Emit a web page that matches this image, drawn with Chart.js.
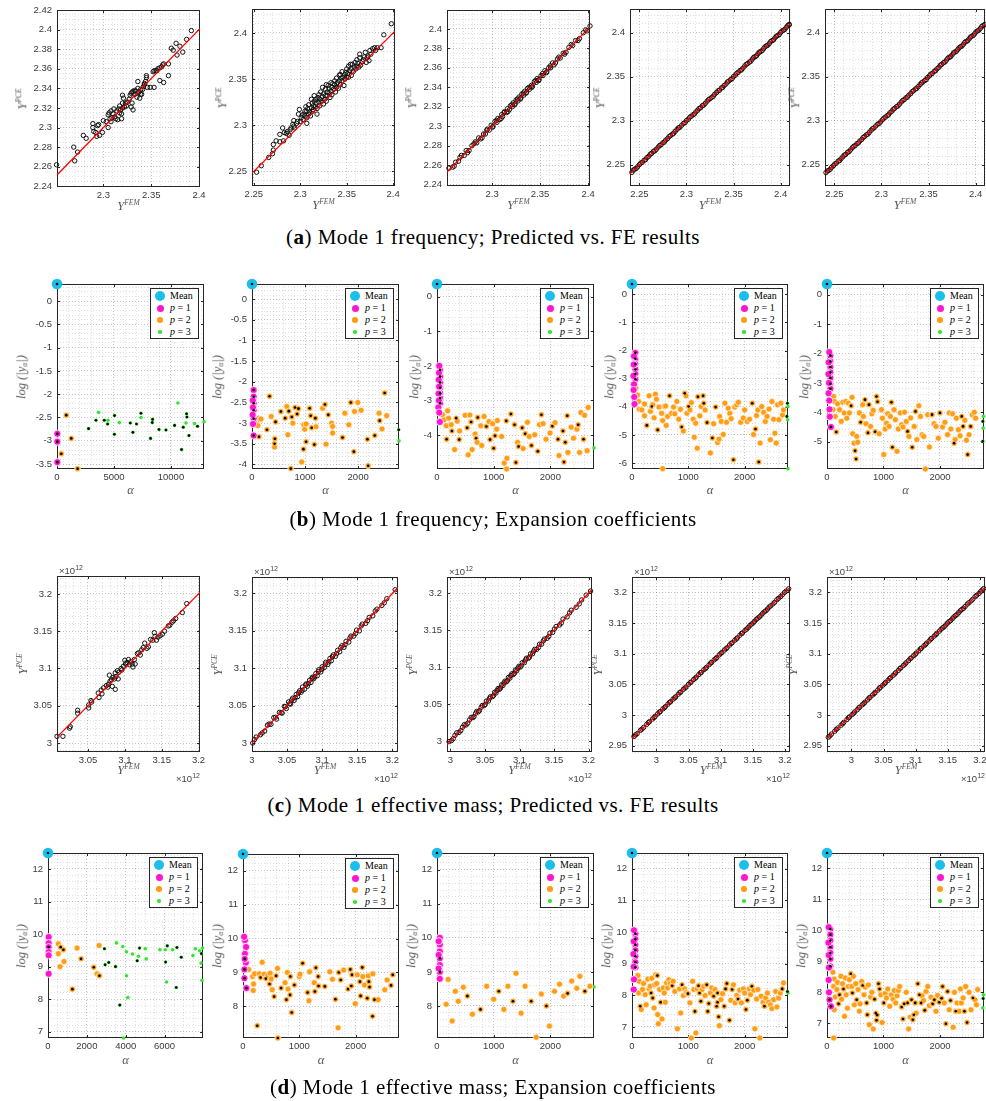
<!DOCTYPE html>
<html>
<head>
<meta charset="utf-8">
<script src="https://cdn.jsdelivr.net/npm/chart.js@4.4.1/dist/chart.umd.min.js"></script>
<style>
body{margin:0;background:#fff;width:986px;height:1101px;position:relative;overflow:hidden;}
canvas{position:absolute;}
.lbl{position:absolute;font-family:"Liberation Serif",serif;font-style:italic;color:#555;font-size:12.5px;white-space:nowrap;line-height:1;}
.lbl sup{font-size:7.5px;vertical-align:5px;}
.lbl sub{font-size:7.5px;vertical-align:-2px;}
.exp{position:absolute;font-family:"Liberation Sans",sans-serif;color:#444;font-size:9.5px;white-space:nowrap;line-height:1;}
.exp sup{font-size:7px;vertical-align:4px;}
.cap{position:absolute;font-family:"Liberation Serif",serif;font-size:21px;letter-spacing:0.45px;color:#000;white-space:nowrap;transform:translate(-50%,-50%);line-height:1;}
.leg{position:absolute;width:47px;height:49px;border:1px solid #262626;background:#fff;font-family:"Liberation Serif",serif;font-size:10px;color:#000;}
.leg div{position:absolute;left:19px;line-height:1;}
.leg span{position:absolute;border-radius:50%;}
</style>
</head>
<body>
<script>
// ---------- (a) mode 1 frequency: [Y_FEM, Y_PCE] ----------
const a1 = [[2.251,2.262],[2.269,2.280],[2.270,2.266],[2.273,2.275],[2.279,2.292],[2.282,2.289],[2.289,2.304],[2.289,2.300],[2.290,2.296],[2.292,2.295],[2.293,2.291],[2.294,2.302],[2.295,2.303],[2.296,2.292],[2.299,2.295],[2.300,2.307],[2.303,2.306],[2.305,2.300],[2.305,2.313],[2.306,2.315],[2.307,2.309],[2.308,2.306],[2.308,2.317],[2.309,2.310],[2.310,2.314],[2.311,2.319],[2.312,2.311],[2.313,2.309],[2.314,2.317],[2.316,2.319],[2.317,2.315],[2.318,2.318],[2.319,2.314],[2.320,2.320],[2.317,2.322],[2.315,2.308],[2.319,2.309],[2.320,2.325],[2.320,2.333],[2.321,2.330],[2.322,2.321],[2.323,2.325],[2.324,2.322],[2.325,2.326],[2.327,2.329],[2.329,2.335],[2.329,2.321],[2.330,2.325],[2.331,2.318],[2.328,2.333],[2.330,2.336],[2.331,2.337],[2.333,2.334],[2.333,2.338],[2.334,2.337],[2.335,2.331],[2.336,2.347],[2.336,2.340],[2.337,2.336],[2.338,2.330],[2.339,2.334],[2.339,2.339],[2.340,2.334],[2.341,2.339],[2.342,2.342],[2.343,2.345],[2.343,2.344],[2.344,2.347],[2.345,2.351],[2.345,2.353],[2.346,2.341],[2.349,2.341],[2.352,2.357],[2.353,2.341],[2.353,2.358],[2.355,2.358],[2.356,2.358],[2.357,2.360],[2.359,2.348],[2.359,2.361],[2.361,2.362],[2.362,2.364],[2.363,2.365],[2.363,2.346],[2.368,2.365],[2.368,2.353],[2.371,2.381],[2.373,2.379],[2.376,2.386],[2.377,2.374],[2.380,2.383],[2.383,2.377],[2.387,2.390],[2.392,2.399]];
const a2 = [[2.253,2.249],[2.258,2.256],[2.266,2.265],[2.270,2.269],[2.271,2.273],[2.271,2.279],[2.274,2.283],[2.278,2.290],[2.278,2.282],[2.281,2.297],[2.282,2.283],[2.283,2.292],[2.285,2.291],[2.286,2.293],[2.288,2.289],[2.289,2.295],[2.290,2.297],[2.292,2.301],[2.293,2.305],[2.293,2.299],[2.294,2.297],[2.296,2.302],[2.297,2.304],[2.298,2.312],[2.299,2.317],[2.300,2.304],[2.301,2.308],[2.302,2.311],[2.303,2.306],[2.304,2.312],[2.305,2.315],[2.305,2.310],[2.306,2.320],[2.307,2.308],[2.307,2.302],[2.307,2.315],[2.308,2.318],[2.309,2.312],[2.309,2.322],[2.310,2.314],[2.311,2.310],[2.312,2.328],[2.312,2.319],[2.313,2.315],[2.313,2.324],[2.314,2.321],[2.314,2.317],[2.315,2.326],[2.315,2.332],[2.316,2.320],[2.317,2.324],[2.317,2.328],[2.318,2.312],[2.318,2.318],[2.319,2.330],[2.320,2.325],[2.320,2.333],[2.321,2.321],[2.321,2.328],[2.322,2.336],[2.323,2.326],[2.324,2.331],[2.324,2.341],[2.325,2.323],[2.325,2.334],[2.326,2.328],[2.327,2.339],[2.327,2.332],[2.328,2.344],[2.328,2.326],[2.329,2.336],[2.329,2.332],[2.330,2.343],[2.331,2.335],[2.331,2.340],[2.332,2.330],[2.333,2.346],[2.333,2.337],[2.334,2.341],[2.334,2.333],[2.335,2.345],[2.336,2.339],[2.337,2.344],[2.337,2.348],[2.338,2.336],[2.339,2.341],[2.339,2.351],[2.340,2.346],[2.341,2.340],[2.342,2.354],[2.342,2.348],[2.343,2.355],[2.343,2.344],[2.344,2.351],[2.345,2.358],[2.345,2.348],[2.346,2.352],[2.347,2.343],[2.348,2.355],[2.348,2.350],[2.349,2.357],[2.350,2.352],[2.350,2.361],[2.351,2.356],[2.352,2.364],[2.352,2.352],[2.353,2.359],[2.354,2.366],[2.355,2.354],[2.355,2.361],[2.356,2.366],[2.357,2.358],[2.358,2.363],[2.359,2.368],[2.360,2.361],[2.361,2.371],[2.361,2.364],[2.362,2.367],[2.363,2.363],[2.364,2.373],[2.364,2.377],[2.365,2.365],[2.367,2.369],[2.368,2.371],[2.369,2.374],[2.370,2.379],[2.371,2.368],[2.372,2.373],[2.373,2.375],[2.374,2.370],[2.375,2.381],[2.376,2.377],[2.378,2.383],[2.380,2.384],[2.381,2.381],[2.383,2.384],[2.387,2.384],[2.390,2.398],[2.398,2.410]];
const a3 = [[2.255,2.257],[2.259,2.258],[2.262,2.263],[2.265,2.264],[2.268,2.270],[2.271,2.270],[2.273,2.275],[2.276,2.275],[2.279,2.280],[2.281,2.282],[2.284,2.283],[2.286,2.288],[2.288,2.287],[2.291,2.292],[2.293,2.292],[2.295,2.297],[2.297,2.296],[2.299,2.301],[2.301,2.300],[2.303,2.305],[2.305,2.304],[2.306,2.308],[2.308,2.307],[2.310,2.312],[2.311,2.310],[2.313,2.315],[2.315,2.314],[2.316,2.318],[2.318,2.317],[2.319,2.321],[2.321,2.320],[2.322,2.324],[2.324,2.323],[2.325,2.327],[2.327,2.326],[2.328,2.330],[2.330,2.329],[2.331,2.333],[2.333,2.332],[2.334,2.336],[2.336,2.335],[2.337,2.339],[2.339,2.338],[2.341,2.342],[2.342,2.341],[2.344,2.346],[2.346,2.345],[2.347,2.349],[2.349,2.348],[2.351,2.352],[2.353,2.352],[2.355,2.357],[2.357,2.356],[2.359,2.360],[2.361,2.360],[2.363,2.365],[2.366,2.365],[2.368,2.369],[2.371,2.370],[2.374,2.375],[2.377,2.376],[2.380,2.381],[2.384,2.383],[2.387,2.388],[2.391,2.390],[2.395,2.396],[2.399,2.398],[2.402,2.403],
  [2.2605,2.2590],[2.2665,2.2680],[2.2745,2.2730],[2.2825,2.2840],[2.2895,2.2880],[2.2945,2.2960],[2.3005,2.2990],[2.3045,2.3060],[2.3095,2.3080],[2.3125,2.3140],[2.3165,2.3150],[2.3205,2.3220],[2.3235,2.3220],[2.3265,2.3280],[2.3295,2.3280],[2.3325,2.3340],[2.3355,2.3340],[2.3385,2.3400],[2.3415,2.3400],[2.3455,2.3470],[2.3485,2.3470],[2.3525,2.3540],[2.3565,2.3550],[2.3605,2.3620],[2.3645,2.3630],[2.3695,2.3710],[2.3755,2.3740],[2.3825,2.3840],[2.3895,2.3880],[2.3975,2.3990]];
const a4 = [[2.242,2.2415],[2.245,2.2452],[2.248,2.2478],[2.250,2.2503],[2.253,2.2528],[2.255,2.2552],[2.258,2.2583],[2.260,2.2598],[2.263,2.2631],[2.265,2.2654],[2.268,2.2678],[2.270,2.2702],[2.273,2.2727],[2.275,2.2752],[2.278,2.2781],[2.280,2.2799],[2.283,2.2832],[2.285,2.2848],[2.288,2.2881],[2.290,2.2903],[2.293,2.2927],[2.295,2.2951],[2.297,2.2972],[2.300,2.3003],[2.302,2.3018],[2.305,2.3052],[2.307,2.3069],[2.310,2.3102],[2.312,2.3121],[2.315,2.3148],[2.317,2.3173],[2.320,2.3199],[2.322,2.3224],[2.325,2.3251],[2.327,2.3268],[2.330,2.3302],[2.332,2.3321],[2.335,2.3347],[2.337,2.3373],[2.340,2.3401],[2.342,2.3418],[2.345,2.3452],[2.347,2.3469],[2.350,2.3503],[2.352,2.3519],[2.355,2.3551],[2.357,2.3572],[2.360,2.3598],[2.362,2.3623],[2.365,2.3651],[2.367,2.3667],[2.370,2.3702],[2.373,2.3728],[2.376,2.3763],[2.379,2.3788],[2.382,2.3821],[2.385,2.3852],[2.388,2.3879],[2.391,2.3912],[2.394,2.3941],[2.397,2.3969],[2.400,2.4003],[2.403,2.4028],[2.406,2.4061],[2.409,2.4088],
  [2.2435,2.2440],[2.2465,2.2458],[2.2515,2.2521],[2.2565,2.2559],[2.2615,2.2621],[2.2665,2.2659],[2.2715,2.2721],[2.2765,2.2759],[2.2815,2.2821],[2.2865,2.2859],[2.2915,2.2921],[2.2985,2.2979],[2.3035,2.3041],[2.3085,2.3079],[2.3135,2.3141],[2.3185,2.3179],[2.3235,2.3241],[2.3285,2.3279],[2.3335,2.3341],[2.3385,2.3379],[2.3435,2.3441],[2.3485,2.3479],[2.3535,2.3541],[2.3585,2.3579],[2.3635,2.3641],[2.3685,2.3679],[2.3715,2.3721],[2.3745,2.3739],[2.3775,2.3781],[2.3805,2.3799],[2.3835,2.3841],[2.3865,2.3859],[2.3895,2.3901],[2.3925,2.3919],[2.3955,2.3961],[2.3985,2.3979],[2.4015,2.4021],[2.4045,2.4039],[2.4075,2.4081],[2.4092,2.4096]];
const a5 = [[2.241,2.2412],[2.244,2.2438],[2.247,2.2473],[2.249,2.2491],[2.252,2.2518],[2.254,2.2543],[2.257,2.2569],[2.259,2.2592],[2.262,2.2618],[2.264,2.2643],[2.267,2.2669],[2.269,2.2694],[2.272,2.2718],[2.274,2.2742],[2.277,2.2771],[2.279,2.2788],[2.282,2.2822],[2.284,2.2841],[2.287,2.2868],[2.289,2.2893],[2.292,2.2919],[2.294,2.2942],[2.296,2.2963],[2.299,2.2988],[2.301,2.3012],[2.304,2.3041],[2.306,2.3058],[2.309,2.3092],[2.311,2.3109],[2.314,2.3142],[2.316,2.3161],[2.319,2.3188],[2.321,2.3213],[2.324,2.3239],[2.326,2.3262],[2.329,2.3291],[2.331,2.3308],[2.334,2.3342],[2.336,2.3361],[2.339,2.3388],[2.341,2.3412],[2.344,2.3441],[2.346,2.3458],[2.349,2.3492],[2.351,2.3511],[2.354,2.3538],[2.356,2.3562],[2.359,2.3591],[2.361,2.3608],[2.364,2.3642],[2.366,2.3661],[2.369,2.3689],[2.372,2.3722],[2.375,2.3748],[2.378,2.3782],[2.381,2.3809],[2.384,2.3841],[2.387,2.3868],[2.390,2.3902],[2.393,2.3929],[2.396,2.3962],[2.399,2.3988],[2.402,2.4021],[2.405,2.4049],[2.408,2.4082],
  [2.2425,2.2431],[2.2455,2.2449],[2.2505,2.2511],[2.2555,2.2549],[2.2605,2.2611],[2.2655,2.2649],[2.2705,2.2711],[2.2755,2.2749],[2.2805,2.2811],[2.2855,2.2849],[2.2905,2.2911],[2.2975,2.2969],[2.3025,2.3031],[2.3075,2.3069],[2.3125,2.3131],[2.3175,2.3169],[2.3225,2.3231],[2.3275,2.3269],[2.3325,2.3331],[2.3375,2.3369],[2.3425,2.3431],[2.3475,2.3469],[2.3525,2.3531],[2.3575,2.3569],[2.3625,2.3631],[2.3675,2.3669],[2.3705,2.3711],[2.3735,2.3729],[2.3765,2.3771],[2.3795,2.3789],[2.3825,2.3831],[2.3855,2.3849],[2.3885,2.3891],[2.3915,2.3909],[2.3945,2.3951],[2.3975,2.3969],[2.4005,2.4011],[2.4035,2.4029],[2.4065,2.4071],[2.4095,2.4093]];

// ---------- (c) mode 1 effective mass (x 1e12): [Y_FEM, Y_PCE] ----------
const c1 = [[3.008,3.009],[3.016,3.009],[3.025,3.020],[3.026,3.022],[3.036,3.040],[3.036,3.044],[3.051,3.047],[3.051,3.051],[3.054,3.057],[3.055,3.055],[3.064,3.067],[3.065,3.061],[3.068,3.071],[3.069,3.066],[3.071,3.074],[3.075,3.077],[3.077,3.075],[3.078,3.079],[3.079,3.091],[3.080,3.083],[3.082,3.085],[3.083,3.076],[3.084,3.088],[3.086,3.086],[3.087,3.072],[3.087,3.094],[3.088,3.089],[3.090,3.097],[3.091,3.086],[3.092,3.095],[3.095,3.100],[3.096,3.098],[3.098,3.103],[3.100,3.111],[3.101,3.106],[3.103,3.108],[3.105,3.112],[3.106,3.105],[3.108,3.109],[3.110,3.106],[3.111,3.102],[3.113,3.112],[3.114,3.106],[3.117,3.120],[3.119,3.121],[3.121,3.118],[3.123,3.125],[3.125,3.128],[3.127,3.134],[3.130,3.127],[3.132,3.129],[3.135,3.139],[3.138,3.138],[3.140,3.148],[3.141,3.143],[3.143,3.138],[3.145,3.142],[3.148,3.144],[3.151,3.146],[3.154,3.150],[3.159,3.157],[3.161,3.158],[3.164,3.162],[3.166,3.164],[3.169,3.167],[3.178,3.175],[3.184,3.187]];
const c2 = [[3.001,3.000],[3.006,3.008],[3.012,3.011],[3.018,3.016],[3.022,3.024],[3.027,3.025],[3.031,3.034],[3.035,3.032],[3.039,3.041],[3.043,3.040],[3.046,3.049],[3.049,3.046],[3.052,3.055],[3.055,3.052],[3.058,3.060],[3.060,3.057],[3.063,3.065],[3.065,3.062],[3.068,3.070],[3.070,3.068],[3.072,3.075],[3.075,3.072],[3.077,3.079],[3.079,3.076],[3.082,3.084],[3.084,3.081],[3.086,3.088],[3.088,3.086],[3.091,3.093],[3.093,3.090],[3.095,3.098],[3.098,3.095],[3.100,3.102],[3.103,3.101],[3.105,3.108],[3.108,3.105],[3.111,3.113],[3.113,3.110],[3.116,3.118],[3.119,3.116],[3.122,3.124],[3.125,3.122],[3.128,3.130],[3.131,3.128],[3.134,3.136],[3.138,3.135],[3.141,3.143],[3.145,3.143],[3.149,3.151],[3.153,3.150],[3.157,3.159],[3.162,3.160],[3.167,3.168],[3.172,3.170],[3.178,3.179],[3.185,3.184],[3.192,3.193],[3.204,3.205],
  [3.0035,3.0045],[3.0145,3.0135],[3.0245,3.0255],[3.0335,3.0345],[3.0415,3.0405],[3.0475,3.0485],[3.0535,3.0525],[3.0565,3.0575],[3.0615,3.0605],[3.0665,3.0675],[3.0715,3.0705],[3.0765,3.0775],[3.0805,3.0795],[3.0855,3.0865],[3.0895,3.0885],[3.0945,3.0955],[3.0995,3.0985],[3.1045,3.1055],[3.1095,3.1085],[3.1145,3.1155],[3.1205,3.1195],[3.1265,3.1275],[3.1325,3.1315],[3.1395,3.1405],[3.1475,3.1465],[3.1555,3.1565],[3.1645,3.1635],[3.1755,3.1765],[3.1885,3.1875]];
const c3 = [[2.998,2.999],[3.004,3.003],[3.009,3.011],[3.015,3.014],[3.020,3.022],[3.025,3.024],[3.030,3.032],[3.034,3.033],[3.038,3.040],[3.042,3.041],[3.046,3.048],[3.049,3.048],[3.052,3.054],[3.055,3.054],[3.058,3.060],[3.061,3.060],[3.064,3.066],[3.066,3.065],[3.069,3.071],[3.071,3.070],[3.074,3.076],[3.076,3.075],[3.079,3.081],[3.081,3.080],[3.084,3.086],[3.086,3.085],[3.089,3.091],[3.091,3.090],[3.094,3.096],[3.096,3.095],[3.099,3.101],[3.101,3.100],[3.104,3.106],[3.107,3.106],[3.110,3.112],[3.113,3.112],[3.116,3.118],[3.119,3.118],[3.122,3.124],[3.125,3.124],[3.129,3.131],[3.132,3.131],[3.136,3.138],[3.140,3.139],[3.144,3.146],[3.148,3.147],[3.153,3.155],[3.158,3.157],[3.163,3.165],[3.169,3.168],[3.175,3.177],[3.182,3.181],[3.190,3.191],[3.203,3.203],
  [3.0015,3.0005],[3.0065,3.0075],[3.0125,3.0115],[3.0175,3.0185],[3.0225,3.0215],[3.0275,3.0285],[3.0325,3.0315],[3.0365,3.0375],[3.0405,3.0395],[3.0445,3.0455],[3.0505,3.0495],[3.0565,3.0575],[3.0625,3.0615],[3.0675,3.0685],[3.0725,3.0715],[3.0775,3.0785],[3.0825,3.0815],[3.0875,3.0885],[3.0925,3.0915],[3.0975,3.0985],[3.1025,3.1015],[3.1085,3.1095],[3.1145,3.1135],[3.1205,3.1215],[3.1275,3.1265],[3.1345,3.1355],[3.1425,3.1415],[3.1505,3.1515],[3.1605,3.1595],[3.1725,3.1735],[3.1865,3.1855],[3.1965,3.1975]];
const c4 = [[2.965,2.9652],[2.970,2.9698],[2.975,2.9753],[2.980,2.9799],[2.985,2.9851],[2.989,2.9893],[2.994,2.9938],[2.998,2.9982],[3.002,3.0021],[3.006,3.0058],[3.010,3.0102],[3.014,3.0139],[3.018,3.0181],[3.022,3.0218],[3.026,3.0262],[3.030,3.0299],[3.034,3.0341],[3.038,3.0378],[3.042,3.0422],[3.046,3.0458],[3.050,3.0502],[3.054,3.0539],[3.058,3.0581],[3.062,3.0619],[3.066,3.0661],[3.070,3.0698],[3.074,3.0742],[3.078,3.0779],[3.082,3.0821],[3.086,3.0859],[3.090,3.0901],[3.094,3.0938],[3.098,3.0982],[3.102,3.1019],[3.106,3.1061],[3.110,3.1098],[3.114,3.1142],[3.118,3.1179],[3.122,3.1221],[3.126,3.1258],[3.130,3.1302],[3.134,3.1339],[3.138,3.1381],[3.143,3.1428],[3.148,3.1482],[3.153,3.1529],[3.158,3.1581],[3.163,3.1628],[3.168,3.1682],[3.173,3.1729],[3.178,3.1781],[3.184,3.1838],[3.190,3.1902],[3.196,3.1959],[3.202,3.2021],[3.206,3.2058],
  [2.9675,2.9679],[2.9775,2.9771],[2.9875,2.9879],[2.9965,2.9961],[3.0045,3.0049],[3.0125,3.0121],[3.0205,3.0209],[3.0285,3.0281],[3.0365,3.0369],[3.0445,3.0441],[3.0525,3.0529],[3.0605,3.0601],[3.0685,3.0689],[3.0765,3.0761],[3.0845,3.0849],[3.0925,3.0921],[3.1005,3.1009],[3.1085,3.1081],[3.1165,3.1169],[3.1245,3.1241],[3.1325,3.1329],[3.1405,3.1401],[3.1455,3.1459],[3.1505,3.1501],[3.1555,3.1559],[3.1605,3.1601],[3.1655,3.1659],[3.1705,3.1701],[3.1755,3.1759],[3.1815,3.1811],[3.1875,3.1879],[3.1935,3.1931],[3.1995,3.1999]];
const c5 = [[2.964,2.9641],[2.969,2.9692],[2.974,2.9738],[2.979,2.9791],[2.984,2.9838],[2.988,2.9882],[2.993,2.9928],[2.997,2.9971],[3.001,3.0009],[3.005,3.0052],[3.009,3.0088],[3.013,3.0131],[3.017,3.0169],[3.021,3.0212],[3.025,3.0248],[3.029,3.0291],[3.033,3.0329],[3.037,3.0372],[3.041,3.0408],[3.045,3.0451],[3.049,3.0489],[3.053,3.0532],[3.057,3.0568],[3.061,3.0611],[3.065,3.0649],[3.069,3.0692],[3.073,3.0728],[3.077,3.0771],[3.081,3.0809],[3.085,3.0852],[3.089,3.0888],[3.093,3.0931],[3.097,3.0969],[3.101,3.1012],[3.105,3.1048],[3.109,3.1091],[3.113,3.1129],[3.117,3.1172],[3.121,3.1208],[3.125,3.1251],[3.129,3.1289],[3.133,3.1332],[3.137,3.1368],[3.142,3.1421],[3.147,3.1469],[3.152,3.1522],[3.157,3.1568],[3.162,3.1621],[3.167,3.1669],[3.172,3.1722],[3.177,3.1768],[3.183,3.1831],[3.189,3.1888],[3.195,3.1951],[3.201,3.2009],[3.206,3.2062],
  [2.9665,2.9661],[2.9765,2.9769],[2.9865,2.9861],[2.9955,2.9959],[3.0035,3.0031],[3.0115,3.0119],[3.0195,3.0191],[3.0275,3.0279],[3.0355,3.0351],[3.0435,3.0439],[3.0515,3.0511],[3.0595,3.0599],[3.0675,3.0671],[3.0755,3.0759],[3.0835,3.0831],[3.0915,3.0919],[3.0995,3.0991],[3.1075,3.1079],[3.1155,3.1151],[3.1235,3.1239],[3.1315,3.1311],[3.1395,3.1399],[3.1445,3.1441],[3.1495,3.1499],[3.1545,3.1541],[3.1595,3.1599],[3.1645,3.1641],[3.1695,3.1699],[3.1745,3.1741],[3.1805,3.1809],[3.1865,3.1861],[3.1925,3.1929],[3.1985,3.1981],[3.2035,3.2039]];

// ---------- (b) frequency coefficients: [alpha, log|y_alpha|, black centre] ----------
const b1Mean = [[0,0.367,1]];
const b1P1 = [[30,-2.85,1],[30,-3.02,1],[30,-3.46,1]];
const b1P2 = [[816,-2.45,1],[1254,-2.95,1],[377,-3.28,1],[1807,-3.6,1]];
const b1P3 = [[2770,-2.74,1],[3420,-2.56,1],[3650,-2.39,0],[4150,-2.56,1],[4440,-2.64,1],[4470,-2.56,0],[5050,-2.46,1],[5030,-2.86,1],[5470,-2.61,0],[6430,-2.62,1],[6660,-2.82,1],[6980,-2.64,1],[7370,-2.41,1],[7370,-2.5,0],[8210,-2.95,1],[8360,-2.61,1],[8390,-2.54,1],[8950,-2.76,1],[9560,-2.77,1],[10320,-2.67,1],[10610,-2.19,0],[10930,-3.19,1],[11080,-2.71,1],[11320,-2.62,0],[11370,-2.42,1],[11400,-2.49,1],[11580,-2.89,1],[12070,-2.63,0],[12330,-2.69,1],[12900,-2.59,0]];
const b2Mean = [[0,0.367,1]];
const b2P1 = [[31,-2.2,1],[31,-2.36,1],[31,-2.52,1],[31,-2.69,1],[31,-2.89,1],[31,-3.3,1],[15,-2.45,0],[18,-2.62,0],[12,-2.8,0],[20,-3.02,0]];
const b2P2 = [[88,-2.96,0],[125,-2.88,0],[131,-3.33,1],[281,-3.16,1],[331,-2.35,1],[362,-2.84,0],[444,-2.97,1],[431,-3.38,1],[425,-3.5,1],[425,-3.58,0],[544,-2.72,1],[625,-2.88,1],[656,-2.6,0],[675,-3.28,0],[694,-2.71,1],[731,-4.1,1],[750,-2.85,1],[769,-3.0,0],[812,-2.62,1],[850,-2.78,1],[875,-2.65,1],[937,-3.94,0],[969,-3.63,1],[975,-3.04,0],[994,-3.15,0],[1019,-3.02,0],[1019,-3.45,1],[1087,-2.64,1],[1106,-2.82,1],[1125,-3.11,1],[1175,-3.52,1],[1194,-2.88,1],[1206,-3.09,0],[1331,-2.64,0],[1375,-2.55,1],[1394,-3.51,0],[1437,-2.8,1],[1500,-3.0,0],[1519,-3.08,0],[1519,-3.24,0],[1706,-3.35,1],[1750,-2.76,0],[1825,-3.04,0],[1862,-2.5,1],[1919,-3.69,1],[1931,-2.72,0],[1994,-2.5,0],[2056,-2.69,0],[2175,-3.39,1],[2188,-4.03,1],[2313,-3.3,1],[2394,-2.76,0],[2406,-2.94,1],[2450,-3.14,0],[2500,-2.27,1],[2538,-2.82,0],[150,-2.92,0],[110,-3.06,0],[170,-2.9,0]];
const b2P3 = [[2765,-3.16,1],[2770,-3.43,0]];
const b3Mean = [[0,0.367,1]];
const b3P1 = [[55,-2.12,1],[55,-2.31,1],[55,-2.48,1],[55,-2.63,1],[55,-2.79,1],[55,-2.93,1],[55,-3.08,1],[40,-2.0,0],[35,-2.2,0],[30,-2.4,0],[38,-2.6,0],[28,-2.8,0],[33,-3.0,0],[25,-3.2,0],[40,-3.35,0],[50,-3.62,0]];
const b3P2 = [[99,-3.41,0],[123,-3.56,0],[187,-3.3,0],[164,-3.73,0],[170,-4.12,1],[205,-3.51,0],[251,-3.7,0],[263,-3.88,1],[310,-4.42,0],[339,-3.51,1],[357,-3.6,0],[392,-4.13,1],[398,-3.88,0],[497,-3.43,0],[532,-3.79,1],[550,-4.57,0],[579,-3.42,0],[602,-3.62,1],[620,-4.42,0],[673,-3.97,0],[690,-4.09,1],[708,-4.21,0],[719,-3.49,1],[772,-3.73,0],[789,-4.3,0],[830,-3.46,0],[871,-3.75,1],[918,-3.61,0],[936,-4.13,1],[982,-3.67,0],[1000,-4.38,1],[1023,-4.02,1],[1053,-3.83,0],[1064,-3.58,0],[1140,-4.04,0],[1187,-4.81,0],[1222,-3.59,1],[1234,-4.67,0],[1228,-4.98,0],[1304,-3.39,1],[1368,-3.7,1],[1392,-4.79,1],[1421,-4.21,0],[1439,-4.33,1],[1503,-3.79,1],[1520,-4.39,0],[1556,-3.96,1],[1596,-3.63,0],[1626,-4.04,0],[1667,-4.3,1],[1725,-3.99,0],[1778,-4.47,1],[1807,-3.7,0],[1842,-3.41,1],[1871,-3.67,0],[1924,-4.12,0],[1994,-3.94,0],[2035,-3.74,1],[2082,-3.64,0],[2135,-4.12,1],[2152,-4.59,0],[2222,-3.88,1],[2240,-4.78,1],[2263,-4.21,1],[2298,-3.44,1],[2310,-4.5,0],[2368,-3.77,0],[2409,-4.09,0],[2468,-3.83,0],[2491,-3.7,1],[2515,-4.5,0],[2538,-3.35,0],[2585,-4.12,1],[2602,-3.43,0],[2649,-4.45,0],[2667,-3.2,0]];
const b3P3 = [[2770,-4.37,0]];
const b4Mean = [[0,0.367,1]];
const b4P1 = [[60,-2.08,1],[60,-2.29,1],[60,-2.48,1],[60,-2.67,1],[60,-2.83,1],[60,-3.02,1],[35,-2.2,0],[30,-2.5,0],[25,-2.9,0],[35,-3.2,0],[28,-3.4,0],[40,-3.65,0],[45,-3.9,0]];
const b4P2 = [[70,-3.34,0],[99,-3.58,0],[117,-3.81,0],[129,-4.09,0],[175,-4.11,0],[222,-3.9,0],[222,-4.32,0],[263,-4.66,1],[304,-3.61,0],[327,-4.16,0],[351,-3.99,1],[368,-3.93,0],[392,-4.39,0],[415,-3.55,0],[433,-3.73,0],[456,-4.82,1],[479,-4.01,0],[526,-4.23,0],[544,-4.49,0],[573,-3.99,0],[596,-3.97,0],[608,-4.66,0],[632,-4.34,0],[667,-3.61,1],[702,-4.23,0],[737,-4.01,0],[760,-4.25,0],[795,-3.81,0],[830,-4.44,0],[860,-4.09,0],[883,-4.72,1],[912,-4.86,0],[936,-3.52,1],[959,-3.61,0],[977,-4.23,0],[1006,-3.99,1],[1029,-4.11,0],[1053,-3.85,0],[1088,-4.44,0],[1105,-5.08,0],[1129,-4.58,0],[1158,-5.47,0],[1170,-3.64,1],[1205,-4.32,0],[1228,-3.99,0],[1263,-3.61,1],[1275,-3.87,1],[1298,-4.11,0],[1333,-4.56,1],[1392,-5.64,0],[1427,-5.11,1],[1450,-4.6,0],[1485,-4.01,1],[1520,-5.27,0],[1544,-5.15,0],[1556,-4.34,0],[1585,-4.52,0],[1620,-4.98,0],[1649,-3.87,0],[1678,-4.55,0],[1708,-4.05,0],[1737,-4.23,0],[1760,-4.42,0],[1801,-5.88,1],[1825,-4.01,0],[1860,-3.93,0],[1889,-3.84,0],[1930,-4.55,0],[1977,-4.4,0],[2000,-4.11,0],[2047,-4.52,0],[2088,-4.44,0],[2135,-3.87,1],[2158,-4.98,0],[2193,-4.79,1],[2211,-4.31,0],[2234,-4.11,0],[2251,-5.96,1],[2275,-5.29,0],[2304,-3.99,0],[2339,-4.2,0],[2368,-4.52,0],[2398,-4.34,0],[2433,-4.08,0],[2456,-5.17,0],[2485,-3.81,0],[2515,-4.44,0],[2538,-4.94,0],[2561,-5.29,0],[2585,-3.93,0],[2608,-4.46,0],[2643,-3.87,0],[2673,-4.29,0],[2690,-4.11,0],[545,-6.2,0]];
const b4P3 = [[2760,-3.87,1],[2770,-3.99,0],[2750,-4.34,1],[2765,-4.46,0],[2770,-6.2,0]];
const b5Mean = [[0,0.367,1]];
const b5P1 = [[60,-2.07,1],[60,-2.27,1],[60,-2.46,1],[60,-2.64,1],[60,-2.83,1],[60,-3.03,1],[60,-3.2,1],[70,-4.5,1],[40,-1.95,0],[30,-2.3,0],[25,-2.7,0],[35,-3.0,0],[28,-3.35,0],[40,-3.6,0],[45,-3.9,0],[50,-4.15,0]];
const b5P2 = [[117,-3.46,0],[134,-3.63,0],[105,-3.91,0],[146,-4.14,0],[164,-4.67,1],[187,-3.71,0],[222,-3.91,0],[251,-4.31,0],[281,-3.66,0],[304,-4.02,0],[333,-3.63,0],[351,-4.2,0],[380,-3.69,0],[398,-4.02,0],[427,-3.78,1],[444,-3.49,0],[456,-4.73,0],[480,-5.05,0],[497,-5.31,1],[515,-5.59,1],[526,-4.82,0],[544,-5.02,0],[573,-4.02,0],[596,-4.34,1],[632,-3.74,0],[643,-4.14,0],[673,-3.57,1],[690,-4.39,0],[725,-4.7,1],[743,-3.74,1],[772,-4.48,0],[795,-4.05,0],[819,-3.93,0],[854,-4.66,1],[877,-3.46,1],[895,-3.64,1],[924,-4.73,0],[965,-3.91,0],[982,-4.2,0],[1006,-5.44,0],[1029,-4.57,0],[1053,-4.37,0],[1076,-4.05,0],[1099,-4.48,0],[1123,-4.14,0],[1140,-3.66,1],[1158,-5.19,1],[1187,-3.91,0],[1211,-4.25,0],[1240,-5.33,0],[1263,-4.57,0],[1298,-4.02,0],[1322,-4.42,0],[1345,-4.5,0],[1374,-4.0,0],[1404,-4.31,0],[1427,-4.65,1],[1450,-4.82,0],[1480,-4.19,0],[1509,-5.19,1],[1544,-4.48,0],[1567,-3.97,1],[1591,-4.93,0],[1626,-3.78,0],[1655,-4.14,0],[1684,-4.76,0],[1713,-4.82,0],[1742,-5.93,0],[1784,-4.08,0],[1813,-5.18,0],[1860,-4.08,1],[1895,-4.39,0],[1930,-4.48,0],[1971,-4.88,0],[2000,-4.02,1],[2047,-4.5,0],[2088,-4.34,0],[2135,-4.76,0],[2164,-4.02,0],[2193,-4.57,0],[2222,-4.05,0],[2251,-5.05,1],[2269,-4.93,0],[2292,-4.2,0],[2327,-4.59,0],[2357,-4.8,0],[2386,-4.14,1],[2409,-4.48,1],[2439,-4.27,0],[2468,-4.95,0],[2491,-5.44,1],[2515,-4.76,0],[2544,-4.48,1],[2573,-4.08,0],[2608,-4.0,0],[2632,-4.2,0]];
const b5P3 = [[2770,-4.14,0],[2760,-4.31,1],[2765,-4.54,0],[2760,-4.99,1]];

// ---------- (d) effective mass coefficients ----------
const d1Mean = [[0,12.49,1]];
const d1P1 = [[34,9.91,0],[34,9.72,0],[34,9.6,1],[34,9.45,0],[34,9.35,0],[34,8.78,0]];
const d1P2 = [[533,9.7,0],[533,9.4,0],[654,9.6,1],[619,9.0,0],[791,9.52,1],[826,9.16,0],[1256,8.31,1],[1496,9.57,0],[1702,9.24,1],[2356,8.98,1],[2528,8.78,0],[2631,9.65,0],[2648,8.72,1]];
const d1P3 = [[2906,9.55,1],[2940,9.06,1],[3130,9.13,1],[3474,9.0,1],[3526,9.73,0],[3697,7.82,1],[3852,9.62,0],[3887,6.81,0],[4041,9.46,0],[4041,8.72,0],[4110,8.05,0],[4351,9.39,0],[4592,9.18,1],[4661,9.32,0],[4713,9.57,1],[5005,9.55,0],[5057,9.24,0],[5762,9.52,0],[6037,9.52,0],[6054,9.14,1],[6105,8.53,0],[6140,9.64,1],[6415,9.52,0],[6604,8.36,1],[6639,9.59,1],[6862,9.29,1],[7464,9.34,0],[7584,9.55,0],[7808,9.49,0],[7900,9.4,1],[7950,9.57,0],[7880,9.11,0],[7930,8.58,0]];
const d2Mean = [[0,12.49,1]];
const d2P1 = [[35,9.95,0],[55,9.75,0],[35,9.55,0],[50,9.29,0],[25,9.09,1],[25,8.83,1],[60,8.54,1],[20,10.05,0],[30,9.4,1]];
const d2P2 = [[100,9.09,0],[171,8.88,0],[182,8.47,0],[206,8.96,0],[188,8.66,0],[253,7.43,1],[288,8.96,0],[312,8.85,1],[341,9.3,0],[376,8.95,0],[406,8.82,1],[441,8.91,0],[471,8.66,1],[482,8.98,0],[500,8.81,0],[518,8.49,0],[553,8.29,1],[588,8.9,1],[612,9.12,0],[618,7.07,1],[676,8.54,1],[747,8.7,0],[771,8.2,1],[788,9.0,0],[800,8.51,0],[835,8.34,1],[841,8.88,1],[865,7.82,1],[912,8.63,1],[1000,8.88,0],[1012,8.95,0],[1059,9.27,1],[1147,8.41,1],[1171,8.17,0],[1182,9.02,0],[1265,8.7,0],[1276,8.44,1],[1294,9.14,1],[1335,8.88,1],[1341,8.6,1],[1453,8.59,1],[1541,9.02,0],[1588,8.8,0],[1641,8.21,1],[1688,7.37,0],[1700,9.0,1],[1735,8.78,1],[1788,9.07,0],[1865,8.51,1],[1906,9.09,1],[1924,8.6,1],[1935,8.93,1],[1994,8.08,0],[2029,8.93,0],[2076,8.73,1],[2088,8.31,1],[2118,9.15,1],[2129,8.88,0],[2159,8.63,0],[2206,8.24,1],[2224,8.9,0],[2235,8.73,1],[2247,8.57,1],[2300,7.71,1],[2306,8.96,0],[2335,8.2,1],[2400,8.2,0],[2518,8.49,0],[2559,8.78,0],[2629,8.62,1],[2659,8.93,1]];
const d2P3 = [];
const d3Mean = [[0,12.49,1]];
const d3P1 = [[50,10.0,0],[50,9.8,0],[50,9.6,0],[50,9.4,1],[50,9.2,0],[50,9.0,1],[50,8.8,0],[30,9.9,0],[30,9.5,0],[30,9.1,0]];
const d3P2 = [[465,8.55,0],[536,8.29,1],[625,7.76,0],[768,7.9,1],[876,8.58,0],[1000,8.2,0],[1090,8.43,1],[1180,7.9,0],[1251,8.58,0],[1340,8.14,1],[1394,8.96,0],[1483,7.79,0],[1555,8.58,0],[1662,8.14,1],[1751,7.08,0],[1841,8.35,0],[1930,8.0,1],[1984,7.41,0],[2073,8.43,0],[2162,8.64,0],[2234,8.29,0],[2305,8.37,1],[2377,8.73,0],[2466,8.52,0],[2520,8.87,0],[2609,8.43,1],[2698,8.58,0],[268,7.56,0],[375,8.14,0],[322,8.43,0],[197,8.78,0],[161,8.05,0]];
const d3P3 = [[2770,8.56,0]];
const d4Mean = [[0,12.49,1]];
const d4P1 = [[60,9.94,1],[60,9.77,1],[60,9.59,1],[60,9.42,1],[60,9.23,1],[60,9.04,1],[60,8.88,1],[30,8.18,0],[35,10.05,0],[30,9.7,0],[25,9.3,0],[30,8.9,0],[35,8.5,0]];
const d4P2 = [[105,8.62,0],[128,8.44,0],[117,8.07,0],[146,7.65,1],[164,7.55,0],[187,8.18,0],[205,8.37,0],[234,8.02,0],[251,7.7,0],[281,8.51,0],[304,8.2,0],[322,8.28,0],[339,8.07,1],[351,8.54,0],[368,7.91,1],[392,7.6,0],[403,8.33,0],[421,8.65,0],[438,8.37,0],[450,8.62,1],[456,7.39,0],[468,7.1,0],[491,8.18,0],[509,7.78,1],[532,7.25,0],[556,8.23,0],[573,8.07,0],[591,7.78,0],[614,8.39,0],[632,8.23,0],[655,8.49,0],[678,8.37,0],[714,8.3,1],[731,8.44,0],[760,8.12,0],[807,6.94,0],[842,8.2,0],[865,7.44,0],[889,8.33,1],[912,7.99,0],[936,8.2,0],[965,8.09,0],[994,8.05,1],[1029,7.76,0],[1053,6.65,0],[1076,8.44,0],[1099,8.18,0],[1117,7.49,1],[1134,6.81,0],[1158,8.2,0],[1181,8.3,1],[1199,8.07,1],[1222,7.81,1],[1246,8.18,0],[1275,8.28,0],[1298,7.99,0],[1327,8.33,1],[1345,7.49,1],[1363,7.74,1],[1392,8.07,0],[1415,8.23,0],[1450,7.97,1],[1474,8.18,0],[1503,7.65,1],[1520,7.78,1],[1520,8.07,1],[1538,7.32,1],[1550,7.04,0],[1579,7.86,0],[1608,8.05,0],[1637,7.65,1],[1661,8.2,1],[1684,8.37,1],[1731,7.21,1],[1754,7.84,0],[1778,8.18,1],[1801,8.33,0],[1830,7.76,0],[1860,7.99,0],[1883,7.88,1],[1912,8.16,0],[1941,7.76,0],[1977,8.2,0],[2000,8.07,0],[2023,7.55,1],[2047,7.84,1],[2082,8.2,0],[2105,8.02,0],[2129,8.28,1],[2164,8.16,0],[2181,6.94,0],[2211,7.88,0],[2234,8.18,0],[2269,6.65,0],[2292,7.97,0],[2327,7.78,0],[2351,7.65,1],[2374,7.91,0],[2404,8.07,0],[2427,7.78,0],[2456,7.7,0],[2485,7.58,0],[2515,7.86,0],[2550,8.12,0],[2573,7.63,0],[2602,7.91,0],[2632,8.07,0],[2667,8.2,1],[2690,8.39,0]];
const d4P3 = [[2760,8.12,1],[2770,8.07,0]];
const d5Mean = [[0,12.49,1]];
const d5P1 = [[60,10.04,1],[60,9.86,1],[60,9.67,1],[60,9.46,1],[60,9.27,1],[60,9.08,1],[60,8.84,1],[45,7.76,1],[70,7.55,1],[30,10.1,0],[25,9.6,0],[30,9.2,0],[35,8.8,0],[30,8.4,0],[35,8.0,0]];
const d5P2 = [[105,8.65,0],[128,8.43,0],[117,8.19,0],[146,7.85,0],[128,7.44,0],[117,6.53,0],[175,8.09,0],[187,8.32,0],[205,7.63,1],[222,7.92,1],[246,8.52,0],[257,7.78,0],[275,8.28,0],[292,8.11,1],[310,7.23,0],[327,8.46,0],[339,7.92,0],[362,7.49,0],[380,8.19,0],[397,8.41,0],[421,8.6,1],[438,8.19,0],[450,7.98,1],[468,8.52,0],[485,7.6,0],[509,8.28,0],[526,7.76,1],[550,8.09,0],[573,7.39,0],[585,7.63,0],[614,8.35,0],[632,8.22,1],[655,7.92,0],[678,8.17,0],[702,7.66,1],[714,7.28,1],[731,8.24,0],[749,6.96,0],[772,7.85,0],[795,8.0,0],[819,6.82,0],[842,7.78,1],[865,7.33,1],[877,7.1,1],[889,7.27,1],[912,8.28,1],[930,8.11,1],[953,7.92,0],[977,7.03,0],[1006,7.66,1],[1029,7.96,0],[1053,7.82,0],[1076,8.11,0],[1111,7.55,0],[1140,7.92,0],[1170,7.78,0],[1193,8.06,0],[1216,7.66,0],[1240,7.89,0],[1263,8.06,0],[1287,8.19,0],[1322,7.53,1],[1345,7.14,1],[1368,7.63,1],[1404,8.0,0],[1427,7.66,1],[1445,6.82,0],[1474,7.2,0],[1497,7.76,1],[1520,7.12,1],[1538,7.28,1],[1562,7.66,1],[1579,7.33,0],[1608,8.28,1],[1637,7.92,1],[1667,7.66,1],[1684,7.89,0],[1708,7.74,0],[1731,7.42,1],[1754,8.03,0],[1784,8.19,0],[1813,7.57,0],[1842,7.84,0],[1871,7.63,1],[1901,7.76,1],[1930,7.39,0],[1959,7.9,0],[1988,7.68,1],[2029,7.81,1],[2047,8.19,1],[2076,7.66,0],[2105,6.99,1],[2135,8.03,1],[2164,7.44,0],[2187,7.74,1],[2234,6.88,0],[2257,8.0,0],[2281,7.39,1],[2304,7.66,0],[2339,7.39,0],[2363,8.11,0],[2380,7.66,0],[2410,7.82,0],[2433,7.39,1],[2456,8.19,0],[2480,7.03,1],[2515,8.0,0],[2550,7.44,0],[2585,7.82,1],[2620,7.76,0],[2646,7.6,0],[2667,8.09,0]];
const d5P3 = [[2770,7.92,0],[2765,7.8,1],[2760,7.5,0]];

// axis limits [min, max]
const axA = { x: [[2.2515,2.401],[2.248,2.402],[2.253,2.402],[2.240,2.41],[2.240,2.41]],
              y: [[2.2393,2.42],[2.234,2.426],[2.2386,2.4194],[2.226,2.427],[2.226,2.427]] };
const axB = { x: [[0,12900],[0,2770],[0,2770],[0,2770],[0,2780]],
              y: [[-3.607,0.367],[-4.11,0.367],[-4.98,0.367],[-6.21,0.367],[-5.93,0.367]] };
const axC = { x: [[3.008,3.202],[3.0,3.208],[2.995,3.205],[2.962,3.208],[2.962,3.208]],
              y: [[2.988,3.224],[2.988,3.222],[2.985,3.222],[2.94,3.225],[2.94,3.225]] };
const axD = { x: [[0,7980],[0,2770],[0,2770],[0,2770],[0,2780]],
              y: [[6.81,12.49],[7.07,12.49],[7.06,12.49],[6.65,12.49],[6.53,12.49]] };
// tick steps [major, minor]
const stA = { x: [[0.05,0.01],[0.05,0.01],[0.05,0.01],[0.05,0.01],[0.05,0.01]], y: [[0.02,0.005],[0.05,0.01],[0.02,0.005],[0.05,0.01],[0.05,0.01]] };
const stB = { x: [[5000,1000],[1000,200],[1000,200],[1000,200],[1000,200]], y: [[0.5,0.1],[0.5,0.1],[1,0.2],[1,0.2],[1,0.2]] };
const stC = { x: [[0.05,0.01],[0.05,0.01],[0.05,0.01],[0.05,0.01],[0.05,0.01]], y: [[0.05,0.01],[0.05,0.01],[0.05,0.01],[0.05,0.01],[0.05,0.01]] };
const stD = { x: [[2000,500],[1000,200],[1000,200],[1000,200],[1000,200]], y: [[1,0.2],[1,0.2],[1,0.2],[1,0.2],[1,0.2]] };

const captions = [
  ['a', 'Mode 1 frequency; Predicted vs. FE results'],
  ['b', 'Mode 1 frequency; Expansion coefficients'],
  ['c', 'Mode 1 effective mass; Predicted vs. FE results'],
  ['d', 'Mode 1 effective mass; Expansion coefficients']
];

// ---------- layout (plot boxes: left, top, right, bottom) ----------
const boxA = [[57,10,200,187],[252,9,395,186],[447,10,590,186],[630,9,790,186],[825,9,985,186]];
const boxB = [[57,284,204,469],[252,284,399,469],[437,284,594,469],[632,284,788,469],[827,284,984,469]];
const boxC = [[57,576,200,752],[252,577,398,752],[447,577,592,752],[632,577,790,752],[827,577,985,752]];
const boxD = [[48,853,203,1038],[243,854,399,1038],[437,853,594,1038],[632,853,788,1038],[827,853,984,1038]];
const yLabOff = { a: [35,30,35,30,30], b: [35,34,22,22,22], c: [34,34,34,34,34], d: [26,25,25,25,25] };

const col = { mean: '#1cbfe9', p1: '#ff14d0', p2: '#ff9d14', p3: '#2ee82e' };

const onStep = (v, s) => Math.abs(v / s - Math.round(v / s)) < 1e-6;
const fmt = v => String(parseFloat(v.toFixed(6)));
const xy = arr => arr.map(p => ({ x: p[0], y: p[1] }));

function frame(majX, majY) {
  return {
    id: 'frame',
    beforeDatasetsDraw(chart) {
      const { ctx, chartArea: a, scales } = chart;
      ctx.save();
      ctx.strokeStyle = '#262626';
      ctx.lineWidth = 1;
      ctx.beginPath();
      scales.x.ticks.forEach(t => {
        if (!onStep(t.value, majX)) return;
        const px = Math.round(scales.x.getPixelForValue(t.value)) + 0.5;
        ctx.moveTo(px, a.bottom); ctx.lineTo(px, a.bottom - 3);
        ctx.moveTo(px, a.top); ctx.lineTo(px, a.top + 3);
      });
      scales.y.ticks.forEach(t => {
        if (!onStep(t.value, majY)) return;
        const py = Math.round(scales.y.getPixelForValue(t.value)) + 0.5;
        ctx.moveTo(a.left, py); ctx.lineTo(a.left + 3, py);
        ctx.moveTo(a.right, py); ctx.lineTo(a.right - 3, py);
      });
      ctx.stroke();
      ctx.strokeRect(a.left + 0.5, a.top + 0.5, a.right - a.left - 1, a.bottom - a.top - 1);
      ctx.restore();
    }
  };
}

function axis(range, step, isX, size) {
  return {
    type: 'linear', min: range[0], max: range[1],
    afterBuildTicks(s) {
      // grid at every minor step, labels only on majors
      const t = [];
      const k0 = Math.ceil(range[0] / step[1] - 1e-9), k1 = Math.floor(range[1] / step[1] + 1e-9);
      for (let k = k0; k <= k1; k++) t.push({ value: +(k * step[1]).toFixed(8) });
      s.ticks = t;
    },
    afterFit(s) {
      if (isX) s.height = size; else s.width = size;
      s.paddingLeft = s.paddingRight = s.paddingTop = s.paddingBottom = 0;
    },
    border: { display: false, dash: [1, 2] },
    grid: {
      drawTicks: false, lineWidth: 1,
      color: c => onStep(c.tick.value, step[0]) ? 'rgba(0,0,0,0.24)' : 'rgba(0,0,0,0.12)'
    },
    ticks: {
      autoSkip: false, maxRotation: 0, minRotation: 0,
      padding: isX ? 3 : 5, color: '#3a3a3a',
      font: { family: 'Liberation Sans', size: 9.5 },
      callback: v => onStep(v, step[0]) ? fmt(v) : ''
    }
  };
}

const PAD = { l: 60, t: 12, r: 24, b: 30 };

function makeChart(box, xr, yr, xs, ys, datasets) {
  const cv = document.createElement('canvas');
  const w = box[2] - box[0], h = box[3] - box[1];
  cv.width = w + PAD.l + PAD.r;
  cv.height = h + PAD.t + PAD.b;
  cv.style.left = (box[0] - PAD.l) + 'px';
  cv.style.top = (box[1] - PAD.t) + 'px';
  document.body.appendChild(cv);
  new Chart(cv, {
    type: 'scatter',
    data: { datasets },
    options: {
      responsive: false, animation: false, devicePixelRatio: 1, events: [],
      layout: { padding: { left: 0, top: PAD.t, right: PAD.r, bottom: 0 } },
      plugins: { legend: { display: false }, tooltip: { enabled: false } },
      scales: { x: axis(xr, xs, true, PAD.b), y: axis(yr, ys, false, PAD.l) }
    },
    plugins: [frame(xs[0], ys[0])]
  });
}

function label(html, x, y, rot, cls) {
  const d = document.createElement('div');
  d.className = cls || 'lbl';
  d.innerHTML = html;
  d.style.left = x + 'px';
  d.style.top = y + 'px';
  d.style.transform = 'translate(-50%,-50%)' + (rot ? ' rotate(-90deg)' : '');
  document.body.appendChild(d);
}

function legend(box) {
  const g = document.createElement('div');
  g.className = 'leg';
  g.style.left = (box[2] - 5 - 49) + 'px';
  g.style.top = (box[1] + 4) + 'px';
  const rows = [['Mean', col.mean, 10], ['<i>p</i> = 1', col.p1, 7], ['<i>p</i> = 2', col.p2, 5.5], ['<i>p</i> = 3', col.p3, 3.5]];
  rows.forEach((r, i) => {
    const cy = 7 + i * 12;
    const s = document.createElement('span');
    s.style.width = s.style.height = r[2] + 'px';
    s.style.background = r[1];
    s.style.left = (9 - r[2] / 2) + 'px';
    s.style.top = (cy - r[2] / 2) + 'px';
    g.appendChild(s);
    const t = document.createElement('div');
    t.innerHTML = r[0];
    t.style.top = (cy - 5) + 'px';
    g.appendChild(t);
  });
  document.body.appendChild(g);
}

function fitSets(pts, xr) {
  return [
    { data: [{ x: xr[0], y: xr[0] }, { x: xr[1], y: xr[1] }], showLine: true, borderColor: '#ff0000', borderWidth: 1.3, pointRadius: 0, order: 0 },
    { data: xy(pts), pointRadius: 2.2, pointBorderWidth: 1, pointBorderColor: '#111', pointBackgroundColor: 'rgba(0,0,0,0)', order: 1, clip: false }
  ];
}

function coefSets(mean, p1, p2, p3) {
  const dots = [].concat(mean, p1, p2, p3).filter(p => p[2]);
  return [
    { data: xy(dots), pointRadius: 1.3, pointBorderWidth: 0, pointBackgroundColor: '#000', order: 0, clip: false },
    { data: xy(mean), pointRadius: 5.3, pointBorderWidth: 0, pointBackgroundColor: col.mean, order: 1, clip: false },
    { data: xy(p1), pointRadius: 3.6, pointBorderWidth: 0.8, pointBorderColor: '#fff', pointBackgroundColor: col.p1, order: 2, clip: false },
    { data: xy(p2), pointRadius: 3.0, pointBorderWidth: 0.6, pointBorderColor: '#fff', pointBackgroundColor: col.p2, order: 3, clip: false },
    { data: xy(p3), pointRadius: 1.8, pointBorderWidth: 0, pointBackgroundColor: col.p3, order: 4, clip: false }
  ];
}

const fitData = { a: [a1, a2, a3, a4, a5], c: [c1, c2, c3, c4, c5] };
const coefData = {
  b: [[b1Mean, b1P1, b1P2, b1P3], [b2Mean, b2P1, b2P2, b2P3], [b3Mean, b3P1, b3P2, b3P3], [b4Mean, b4P1, b4P2, b4P3], [b5Mean, b5P1, b5P2, b5P3]],
  d: [[d1Mean, d1P1, d1P2, d1P3], [d2Mean, d2P1, d2P2, d2P3], [d3Mean, d3P1, d3P2, d3P3], [d4Mean, d4P1, d4P2, d4P3], [d5Mean, d5P1, d5P2, d5P3]]
};

const yFit = '<i>Y</i><sup>PCE</sup>', xFit = '<i>Y</i><sup>FEM</sup>';
const yCoef = 'log (|<i>y</i><sub>α</sub>|)', xCoef = 'α';

for (let i = 0; i < 5; i++) {
  // row a
  let bx = boxA[i];
  makeChart(bx, axA.x[i], axA.y[i], stA.x[i], stA.y[i], fitSets(fitData.a[i], axA.x[i]));
  label(yFit, bx[0] - yLabOff.a[i], (bx[1] + bx[3]) / 2, true);
  label(xFit, (bx[0] + bx[2]) / 2, bx[3] + 19, false);
  // row b
  bx = boxB[i];
  makeChart(bx, axB.x[i], axB.y[i], stB.x[i], stB.y[i], coefSets(...coefData.b[i]));
  label(yCoef, bx[0] - yLabOff.b[i], (bx[1] + bx[3]) / 2, true);
  label(xCoef, (bx[0] + bx[2]) / 2, bx[3] + 21, false);
  legend(bx);
  // row c
  bx = boxC[i];
  makeChart(bx, axC.x[i], axC.y[i], stC.x[i], stC.y[i], fitSets(fitData.c[i], axC.x[i]));
  label(yFit, bx[0] - yLabOff.c[i], (bx[1] + bx[3]) / 2, true);
  label(xFit, (bx[0] + bx[2]) / 2, bx[3] + 18, false);
  label('×10<sup>12</sup>', bx[0] + 14, bx[1] - 6, false, 'exp');
  label('×10<sup>12</sup>', bx[2] - 12, bx[3] + 26, false, 'exp');
  // row d
  bx = boxD[i];
  makeChart(bx, axD.x[i], axD.y[i], stD.x[i], stD.y[i], coefSets(...coefData.d[i]));
  label(yCoef, bx[0] - yLabOff.d[i], (bx[1] + bx[3]) / 2, true);
  label(xCoef, (bx[0] + bx[2]) / 2, bx[3] + 22, false);
  legend(bx);
}

const capY = [237, 519, 805, 1087];
captions.forEach((c, i) => {
  const d = document.createElement('div');
  d.className = 'cap';
  d.innerHTML = '(<b>' + c[0] + '</b>) ' + c[1];
  d.style.left = '493px';
  d.style.top = capY[i] + 'px';
  document.body.appendChild(d);
});
</script>
</body>
</html>
